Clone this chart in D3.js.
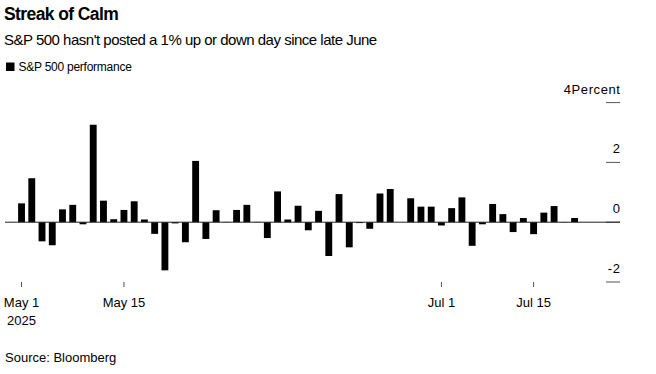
<!DOCTYPE html>
<html>
  <head>
    <meta charset="utf-8">
    <title>Streak of Calm</title>
    <script src="https://d3js.org/d3.v7.min.js"></script>
    <style>
      body { margin: 0; background: #fff; font-family: "Liberation Sans", Arial, sans-serif; }
      svg text { fill: #000; }
      .title { font-size: 17.5px; font-weight: bold; letter-spacing: -0.6px; }
      .subtitle { font-size: 15px; letter-spacing: -0.5px; }
      .legend { font-size: 12px; letter-spacing: -0.25px; }
      .axis text { font-size: 13px; }
      .yaxis text { letter-spacing: 0.6px; }
      .source { font-size: 13px; }
    </style>
  </head>
  <body>
    <svg id="chart" width="656" height="374"></svg>
    <script>
      // trading days, May 1 to Jul 21 2025
      const dates = [
        "2025-05-01", "2025-05-02", "2025-05-05", "2025-05-06", "2025-05-07", "2025-05-08", "2025-05-09",
        "2025-05-12", "2025-05-13", "2025-05-14", "2025-05-15", "2025-05-16", "2025-05-19", "2025-05-20",
        "2025-05-21", "2025-05-22", "2025-05-23", "2025-05-27", "2025-05-28", "2025-05-29", "2025-05-30",
        "2025-06-02", "2025-06-03", "2025-06-04", "2025-06-05", "2025-06-06", "2025-06-09", "2025-06-10",
        "2025-06-11", "2025-06-12", "2025-06-13", "2025-06-16", "2025-06-17", "2025-06-18", "2025-06-20",
        "2025-06-23", "2025-06-24", "2025-06-25", "2025-06-26", "2025-06-27", "2025-06-30", "2025-07-01",
        "2025-07-02", "2025-07-03", "2025-07-07", "2025-07-08", "2025-07-09", "2025-07-10", "2025-07-11",
        "2025-07-14", "2025-07-15", "2025-07-16", "2025-07-17", "2025-07-18", "2025-07-21"
      ];
      // daily % change
      const performance = [
        0.63, 1.47, -0.64, -0.77, 0.43, 0.58, -0.07,
        3.26, 0.72, 0.10, 0.41, 0.70, 0.09, -0.39,
        -1.61, -0.04, -0.67, 2.05, -0.56, 0.40, 0.01,
        0.41, 0.58, 0.01, -0.53, 1.03, 0.09, 0.55,
        -0.27, 0.38, -1.13, 0.94, -0.84, -0.03, -0.22,
        0.96, 1.11, 0.00, 0.80, 0.52, 0.52, -0.11,
        0.47, 0.83, -0.79, -0.07, 0.61, 0.27, -0.33,
        0.14, -0.40, 0.32, 0.54, -0.01, 0.14
      ];
      const xTicks = ["2025-05-01", "2025-05-15", "2025-07-01", "2025-07-15"];
      const xTickLabels = [["May 1", "2025"], ["May 15"], ["Jul 1"], ["Jul 15"]];
      const yTicks = [-2, 0, 2, 4];

      const svg = d3.select("#chart");
      const plot = { left: 5, right: 620, tickLeft: 606 };

      // header
      svg.append("text").attr("class", "title").attr("x", 4).attr("y", 20).text("Streak of Calm");
      svg.append("text").attr("class", "subtitle").attr("x", 4).attr("y", 44.5)
        .text("S&P 500 hasn't posted a 1% up or down day since late June");
      svg.append("rect").attr("x", 6).attr("y", 62.5).attr("width", 8.5).attr("height", 8.5).attr("fill", "#000");
      svg.append("text").attr("class", "legend").attr("x", 18.5).attr("y", 70.5).text("S&P 500 performance");

      // scales
      const x = d3.scaleBand()
        .domain(dates)
        .range([18.1, 578])
        .paddingInner(0.33)
        .paddingOuter(0);
      const y = d3.scaleLinear()
        .domain([-2, 4])
        .range([282, 102.6]);

      // y axis, right side, labels above tick lines
      const yAxis = svg.append("g").attr("class", "axis yaxis");
      yAxis.selectAll("line")
        .data(yTicks)
        .enter().append("line")
          .attr("x1", plot.tickLeft).attr("x2", plot.right)
          .attr("y1", d => y(d)).attr("y2", d => y(d))
          .attr("stroke", "#555").attr("stroke-width", 1);
      yAxis.selectAll("text")
        .data(yTicks)
        .enter().append("text")
          .attr("x", plot.right + 0.6)
          .attr("y", d => y(d) - 9)
          .attr("text-anchor", "end")
          .text(d => d === 4 ? "4Percent" : d);

      // bars
      svg.append("g")
        .selectAll("rect")
          .data(performance)
        .enter().append("rect")
          .attr("x", (d, i) => x(dates[i]))
          .attr("width", x.bandwidth())
          .attr("y", d => y(Math.max(0, d)))
          .attr("height", d => Math.abs(y(d) - y(0)))
          .attr("fill", "#000");

      // zero line
      svg.append("line")
        .attr("x1", plot.left).attr("x2", plot.right)
        .attr("y1", y(0)).attr("y2", y(0))
        .attr("stroke", "#222").attr("stroke-width", 1);

      // x axis
      const xAxis = d3.axisBottom(x)
        .tickValues(xTicks)
        .tickSize(5)
        .tickPadding(10)
        .tickFormat("");
      const xg = svg.append("g")
        .attr("class", "axis")
        .attr("transform", "translate(0, 282)")
        .call(xAxis);
      xg.select(".domain").remove();
      xg.selectAll(".tick line").attr("stroke", "#555");
      xg.selectAll(".tick")
        .append("text")
          .attr("text-anchor", "middle")
          .attr("fill", "#000")
          .attr("y", 24.5)
          .selectAll("tspan")
            .data((d, i) => xTickLabels[i])
          .enter().append("tspan")
            .attr("x", 0)
            .attr("dy", (d, i) => i === 0 ? 0 : 18.3)
            .text(d => d);

      // source
      svg.append("text").attr("class", "source").attr("x", 5).attr("y", 362).text("Source: Bloomberg");
    </script>
  </body>
</html>
